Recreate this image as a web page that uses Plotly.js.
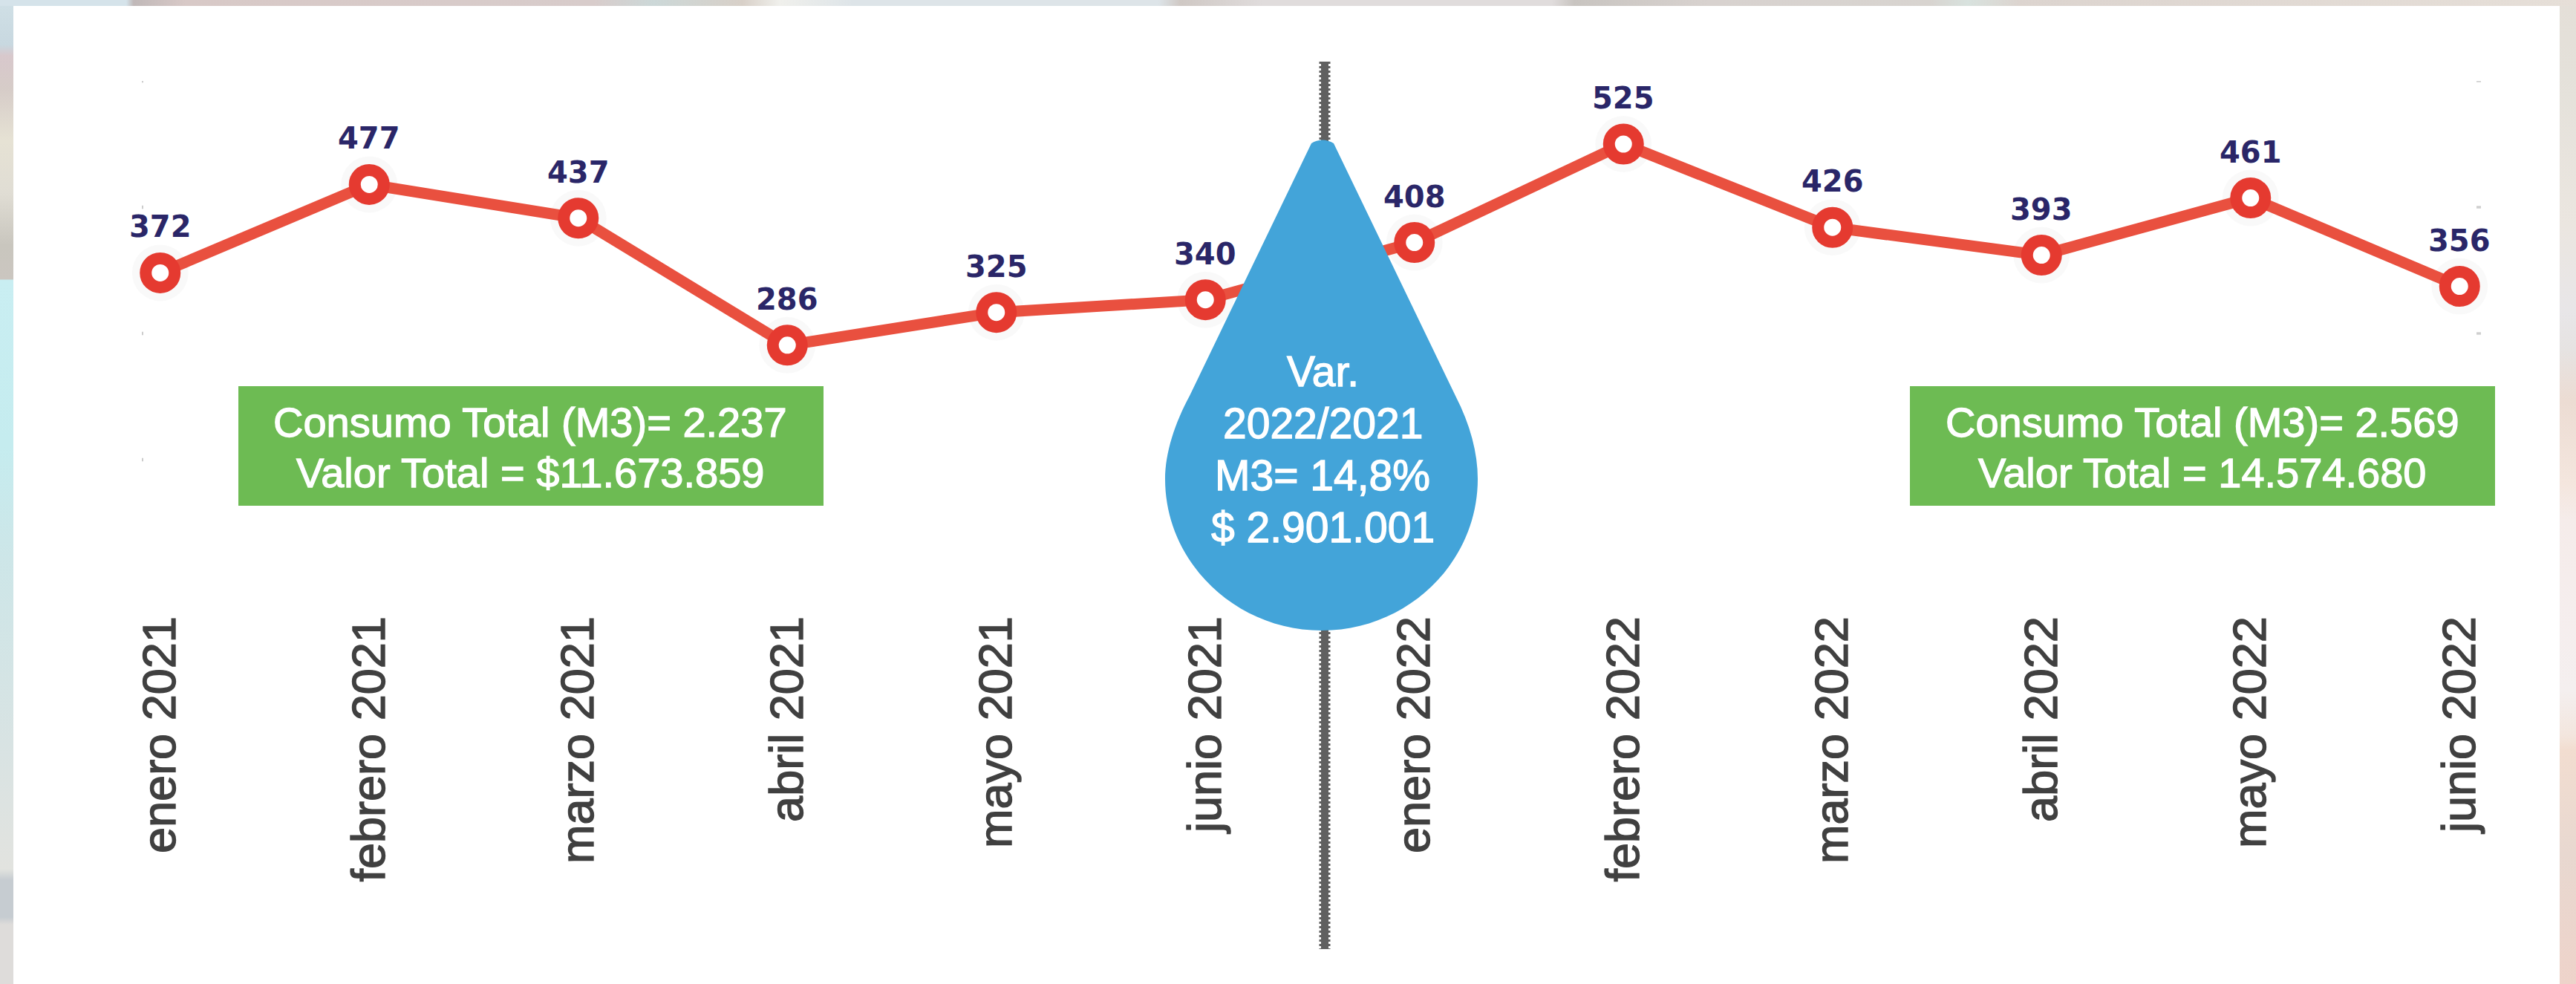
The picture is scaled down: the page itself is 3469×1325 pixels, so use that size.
<!DOCTYPE html>
<html>
<head>
<meta charset="utf-8">
<script src="https://cdn.plot.ly/plotly-3.0.1.min.js"></script>
<style>
html,body{margin:0;padding:0;background:#fff}
#chart{width:3469px;height:1325px;
 background:
  linear-gradient(#fff,#fff) 18px 8px/3429px 1317px no-repeat,
  linear-gradient(90deg,#d5e3ea 0,#d5e3ea 170px,#c0b8b8 180px,#d8c9c7 250px,#d8cccb 800px,#ccd8d8 880px,#d8d0c8 1000px,#f0f0ec 1050px,#dde4e8 1150px,#dde4e8 1560px,#cfc8c4 1590px,#e0dcdc 1700px,#e0dcdc 2090px,#c8c4c0 2120px,#d8d2cf 2300px,#d8d4d0 2600px,#d8e2de 2650px,#dcd4cf 2720px,#e6dfd8 3469px) 0 0/3469px 8px no-repeat,
  linear-gradient(#d0e0e6 0,#c8d8e0 60px,#d8c8cc 75px,#d6ccc8 120px,#e6e2d4 190px,#e0ddd4 260px,#c9c6be 330px,#cbc6c0 376px,#c9eef2 377px,#c5ecef 600px,#cde6e8 750px,#d8e3e3 1000px,#e2e3df 1170px,#c6ccd1 1185px,#c6ccd1 1235px,#dedcda 1245px,#dedcda 1325px) 0 0/18px 1325px no-repeat,
  linear-gradient(#e4dfd8 0,#e4e1da 100px,#ebe6e0 300px,#e8e6e8 420px,#e6e3e2 470px,#ecdcd3 540px,#f4e6de 650px,#f5ecea 700px,#f5eeee 850px,#f4efef 930px,#f3e6de 990px,#f2ddd0 1010px,#e8d8d0 1150px,#eed3ca 1325px) 3447px 0/22px 1325px no-repeat;
}
#chart .xtick text{stroke:#404040;stroke-width:1.4px}
#chart text.annotation-text[style*="rgb(255, 255, 255)"]{stroke:#ffffff;stroke-width:1.3px}
</style>
</head>
<body>
<div id="chart"></div>
<script>
const months = ["enero 2021","febrero 2021","marzo 2021","abril 2021","mayo 2021","junio 2021","enero 2022","febrero 2022","marzo 2022","abril 2022","mayo 2022","junio 2022"];
const consumo = [372,477,437,286,325,340,408,525,426,393,461,356];
const boxLeft = ["Consumo Total (M3)= 2.237","Valor Total = $11.673.859"];
const boxRight = ["Consumo Total (M3)= 2.569","Valor Total = 14.574.680"];
const dropLines = ["Var.","2022/2021","M3= 14,8%","$ 2.901.001"];
const gridValues = [600,450,300,150];

const W=3469,H=1325,L=75,R=16,T=109,B=536;
const pw=W-L-R, ph=H-T-B;
const fx=x=>(x-L)/pw, fy=y=>(H-B-y)/ph;
const rect=(x0,y0,x1,y1,c,layer)=>({type:'rect',xref:'paper',yref:'paper',x0:fx(x0),x1:fx(x1),y0:fy(y0),y1:fy(y1),fillcolor:c,line:{width:0},layer:layer||'below'});
const P=(s)=>s.replace(/(-?\d+(?:\.\d+)?) (-?\d+(?:\.\d+)?)/g,(m,a,b)=>fx(+a)+' '+fy(+b));

const shapes=[];
// faint leftover gridline ends
gridValues.forEach(v=>{
  shapes.push({type:'rect',xref:'paper',yref:'y',x0:fx(191),x1:fx(193),y0:v-2,y1:v+2,fillcolor:'#cccccc',line:{width:0},layer:'below'});
  shapes.push({type:'rect',xref:'paper',yref:'y',x0:fx(3335),x1:fx(3341),y0:v-1.5,y1:v+1.5,fillcolor:'#cfcfcf',line:{width:0},layer:'below'});
});
// divider
shapes.push({type:'line',xref:'paper',yref:'paper',x0:fx(1784),x1:fx(1784),y0:fy(83),y1:fy(1278),line:{color:'#606060',width:10},layer:'above'});
shapes.push({type:'line',xref:'paper',yref:'paper',x0:fx(1784),x1:fx(1784),y0:fy(83),y1:fy(1278),line:{color:'#606060',width:15,dash:'3px,3px'},layer:'above'});
// green boxes
shapes.push(rect(321,520,1109,681,'#6dbb53','above'));
shapes.push(rect(2572,520,3360,681,'#6dbb53','above'));
// water drop
shapes.push({type:'path',xref:'paper',yref:'paper',layer:'above',fillcolor:'#43a4d9',line:{width:0},
  path:P('M 1766 193 Q 1781 184 1796 193 L 1960 533 C 1980 572 1990 610 1990 645 C 1990 757 1896 849 1780 849 C 1664 849 1569 757 1569 645 C 1569 610 1582 570 1602 533 Z')});

const anns=[];
months.forEach((m,i)=>anns.push({xref:'x',yref:'y',x:m,y:consumo[i],yshift:62,text:String(consumo[i]),showarrow:false,xanchor:'center',yanchor:'middle',font:{family:'DejaVu Sans',size:40,color:'#2a2668',weight:'bold'}}));
const white=(t,x,y,s)=>anns.push({xref:'paper',yref:'paper',x:fx(x),y:fy(y),text:t,showarrow:false,xanchor:'center',yanchor:'middle',font:{family:'Liberation Sans',size:s,color:'#ffffff'}});
boxLeft.forEach((t,i)=>white(t,714,568+i*68,56));
boxRight.forEach((t,i)=>white(t,2966,568+i*68,56));
dropLines.forEach((t,i)=>white(t,1781,500+i*70,57));

const traces=[
 {x:months,y:consumo,type:'scatter',mode:'markers',marker:{size:76,color:'rgba(0,0,0,0.022)'},hoverinfo:'skip',showlegend:false},
 {x:months,y:consumo,type:'scatter',mode:'lines',line:{color:'#e9503f',width:15},hoverinfo:'skip',showlegend:false},
 {x:months,y:consumo,type:'scatter',mode:'markers',marker:{size:39,color:'#ffffff',line:{color:'#e53a30',width:16}},showlegend:false}
];
const layout={
 width:W,height:H,showlegend:false,paper_bgcolor:'rgba(0,0,0,0)',plot_bgcolor:'rgba(0,0,0,0)',
 margin:{l:L,r:R,t:T,b:B,pad:0},
 xaxis:{type:'category',categoryorder:'array',categoryarray:months,range:[-0.5,11.5],tickangle:-90,showgrid:false,zeroline:false,showline:false,ticks:'outside',ticklen:15,tickcolor:'rgba(0,0,0,0)',automargin:false,tickfont:{family:'Liberation Sans',size:63,color:'#404040'}},
 yaxis:{range:[0,600],showgrid:false,zeroline:false,showline:false,showticklabels:false,ticks:'',automargin:false},
 shapes:shapes,annotations:anns
};
Plotly.newPlot('chart',traces,layout,{displayModeBar:false,staticPlot:true});
</script>
</body>
</html>
